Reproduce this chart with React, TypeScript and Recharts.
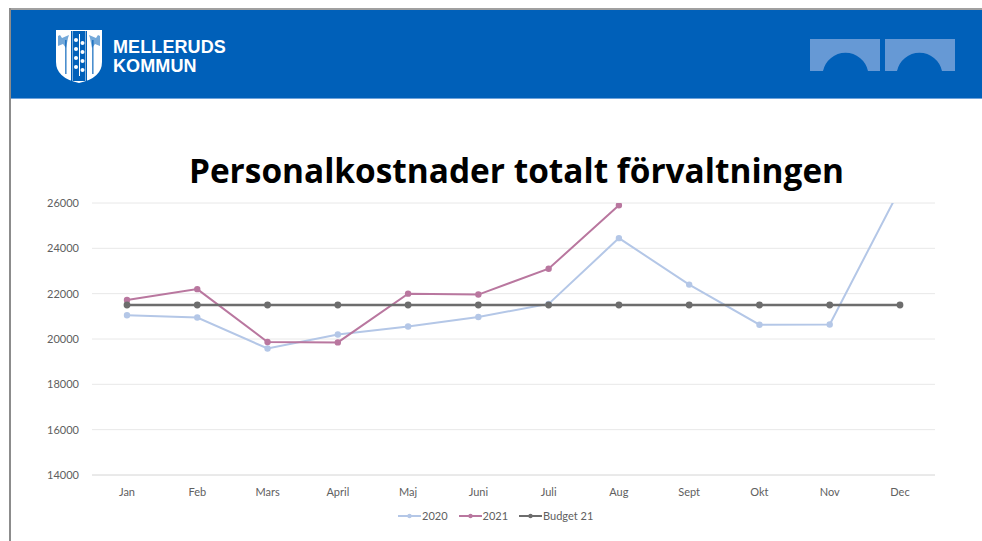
import React from "react";
import { LineChart, Line, XAxis, YAxis, CartesianGrid, Legend } from "recharts";

const months = ["Jan", "Feb", "Mars", "April", "Maj", "Juni", "Juli", "Aug", "Sept", "Okt", "Nov", "Dec"];
const values2020 = [21050, 20950, 19580, 20200, 20550, 20970, 21550, 24450, 22400, 20630, 20640, 26620];
const values2021 = [21720, 22200, 19870, 19850, 22000, 21960, 23100, 25900];
const budget21 = [21500, 21500, 21500, 21500, 21500, 21500, 21500, 21500, 21500, 21500, 21500, 21500];
const yTicks = [14000, 16000, 18000, 20000, 22000, 24000, 26000];

const rows = months.map((m, i) => ({
  month: m,
  "2020": values2020[i],
  "2021": values2021[i],
  "Budget 21": budget21[i],
}));

const font = "Lato, 'Open Sans', sans-serif";

function Header() {
  return (
    <svg width={982} height={541} style={{ position: "absolute", left: 0, top: 0 }}>
      <rect x={9} y={8} width={973} height={2} fill="#a0a0a0" />
      <rect x={9} y={8} width={2} height={533} fill="#8c8c8c" />
      <rect x={11} y={10} width={971} height={88} fill="#0060b9" />
      <rect x={11} y={98} width={971} height={1} fill="#6fa3db" />
      {/* shield */}
      <path d="M56 30 H102 V62 Q102 78 79 83 Q56 78 56 62 Z" fill="#ffffff" />
      <path d="M58 36 L60 35 L62 38 L69 35 L68 38 L66 48 L63 44 L58 46 Z" fill="#0060b9" opacity={0.55} />
      <path d="M100 36 L98 35 L96 38 L89 35 L90 38 L92 48 L95 44 L100 46 Z" fill="#0060b9" opacity={0.55} />
      <rect x={65} y={40} width={1.6} height={34} fill="#0060b9" opacity={0.7} />
      <rect x={92} y={40} width={1.6} height={34} fill="#0060b9" opacity={0.7} />
      <rect x={71} y={31} width={16} height={50} fill="#0060b9" />
      <rect x={72} y={31} width={1} height={50} fill="#ffffff" opacity={0.5} />
      <rect x={85} y={31} width={1} height={50} fill="#ffffff" opacity={0.5} />
      {[37, 46, 55, 64].map((y) => (
        <g key={y}>
          <circle cx={76} cy={y + 3} r={2} fill="#ffffff" />
          <circle cx={82.5} cy={y + 6} r={2} fill="#ffffff" />
        </g>
      ))}
      <rect x={79} y={34} width={1} height={42} fill="#ffffff" />
      <text fill="#ffffff" fontFamily="'Liberation Sans', sans-serif" fontWeight={700} fontSize={18} letterSpacing={0.1}>
        <tspan x={113} y={52.5}>MELLERUDS</tspan>
        <tspan x={113} y={71.5}>KOMMUN</tspan>
      </text>
      {/* bridge arches */}
      <path d="M810 39 H880 V71 H868 A23 23 0 0 0 823 71 H810 Z" fill="#6699d5" />
      <path d="M885 39 H955 V71 H942 A23 23 0 0 0 897 71 H885 Z" fill="#6699d5" />
      <text x={516.5} y={183} textAnchor="middle" fill="#000000" fontFamily="'Open Sans', sans-serif" fontWeight={700} fontSize={33.4}>
        Personalkostnader totalt förvaltningen
      </text>
    </svg>
  );
}

function LegendRow({ payload }: any) {
  return (
    <div style={{ display: "flex", gap: 11, alignItems: "center", fontSize: 11, fontFamily: font, color: "#606060" }}>
      {(payload || []).map((p: any) => (
        <div key={p.value} style={{ display: "flex", alignItems: "center", gap: 1 }}>
          <svg width={23} height={8}>
            <line x1={0} x2={23} y1={4} y2={4} stroke={p.color} strokeWidth={2} />
            <circle cx={11.5} cy={4} r={2.2} fill={p.color} />
          </svg>
          <span>{p.value}</span>
        </div>
      ))}
    </div>
  );
}

export default function App() {
  return (
    <div style={{ position: "absolute", left: 0, top: 0, width: 982, height: 541, overflow: "hidden", background: "#fff" }}>
      <Header />
      <div style={{ position: "absolute", left: 0, top: 0 }}>
        <LineChart width={982} height={541} data={rows} margin={{ top: 203, right: 47, bottom: 36, left: 0 }}>
          <CartesianGrid vertical={false} stroke="#e8e8e8" strokeWidth={1} />
          <XAxis
            dataKey="month"
            interval={0}
            padding={{ left: 35, right: 35 }}
            tickLine={false}
            axisLine={{ stroke: "#e0e0e0" }}
            tick={{ fill: "#606060", fontSize: 11, fontFamily: font }}
            tickMargin={7}
          />
          <YAxis
            width={92}
            domain={[14000, 26000]}
            ticks={yTicks}
            allowDataOverflow
            axisLine={false}
            tickLine={false}
            tick={{ fill: "#606060", fontSize: 11, fontFamily: font }}
            tickMargin={7}
          />
          <Legend
            layout="horizontal"
            align="center"
            verticalAlign="middle"
            content={<LegendRow />}
            wrapperStyle={{ left: 398, top: 509, width: 220 }}
          />
          <Line dataKey="2020" stroke="#b4c7e7" strokeWidth={2} dot={{ r: 2.2, fill: "#b4c7e7", stroke: "#b4c7e7" }} isAnimationActive={false} />
          <Line dataKey="2021" stroke="#b9779f" strokeWidth={2} dot={{ r: 2.2, fill: "#b9779f", stroke: "#b9779f" }} isAnimationActive={false} />
          <Line dataKey="Budget 21" stroke="#6d6d6d" strokeWidth={2.4} dot={{ r: 2.2, fill: "#6d6d6d", stroke: "#6d6d6d" }} isAnimationActive={false} />
        </LineChart>
      </div>
    </div>
  );
}
